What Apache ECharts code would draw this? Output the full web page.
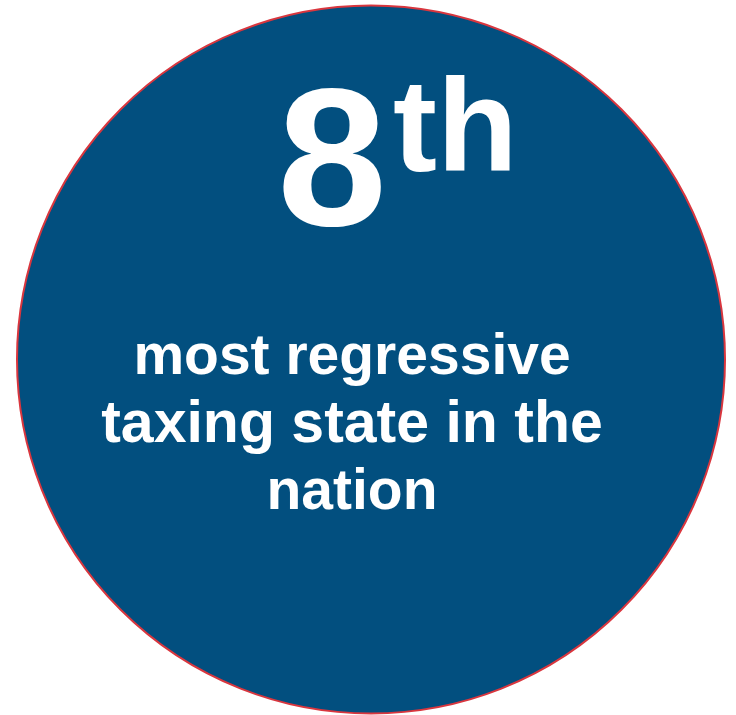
<!DOCTYPE html>
<html>
<head>
<meta charset="utf-8">
<script src="https://cdn.jsdelivr.net/npm/echarts@6/dist/echarts.min.js"></script>
<style>html,body{margin:0;padding:0;background:#fff;}#c{width:736px;height:715px;}</style>
</head>
<body>
<div id="c"></div>
<script>
const rank = '8';
const suffix = 'th';
const lines = ['most regressive', 'taxing state in the', 'nation'];
const lineSizes = [57, 59, 57];

const chart = echarts.init(document.getElementById('c'), null, {renderer: 'canvas'});
const FONT = '"Liberation Sans", Arial, sans-serif';
const DESC = 0.21;
const textEls = lines.map((t, i) => ({
  type: 'text',
  style: {
    text: t, x: 352, y: 375 + i * 67.5 + DESC * lineSizes[i],
    font: 'bold ' + lineSizes[i] + 'px ' + FONT,
    fill: '#ffffff', align: 'center', verticalAlign: 'bottom'
  }
}));
chart.setOption({
  animation: false,
  graphic: [
    {type: 'circle', shape: {cx: 371, cy: 359.5, r: 354}, style: {fill: '#024f7f', stroke: '#d9363e', lineWidth: 2}},
    {type: 'text', style: {text: rank, x: 332, y: 228 + DESC * 197, font: 'bold 197px ' + FONT, fill: '#ffffff', align: 'center', verticalAlign: 'bottom'}},
    {type: 'text', style: {text: suffix, x: 393, y: 173 + DESC * 132, font: 'bold 132px ' + FONT, fill: '#ffffff', align: 'left', verticalAlign: 'bottom'}}
  ].concat(textEls)
});
</script>
</body>
</html>
